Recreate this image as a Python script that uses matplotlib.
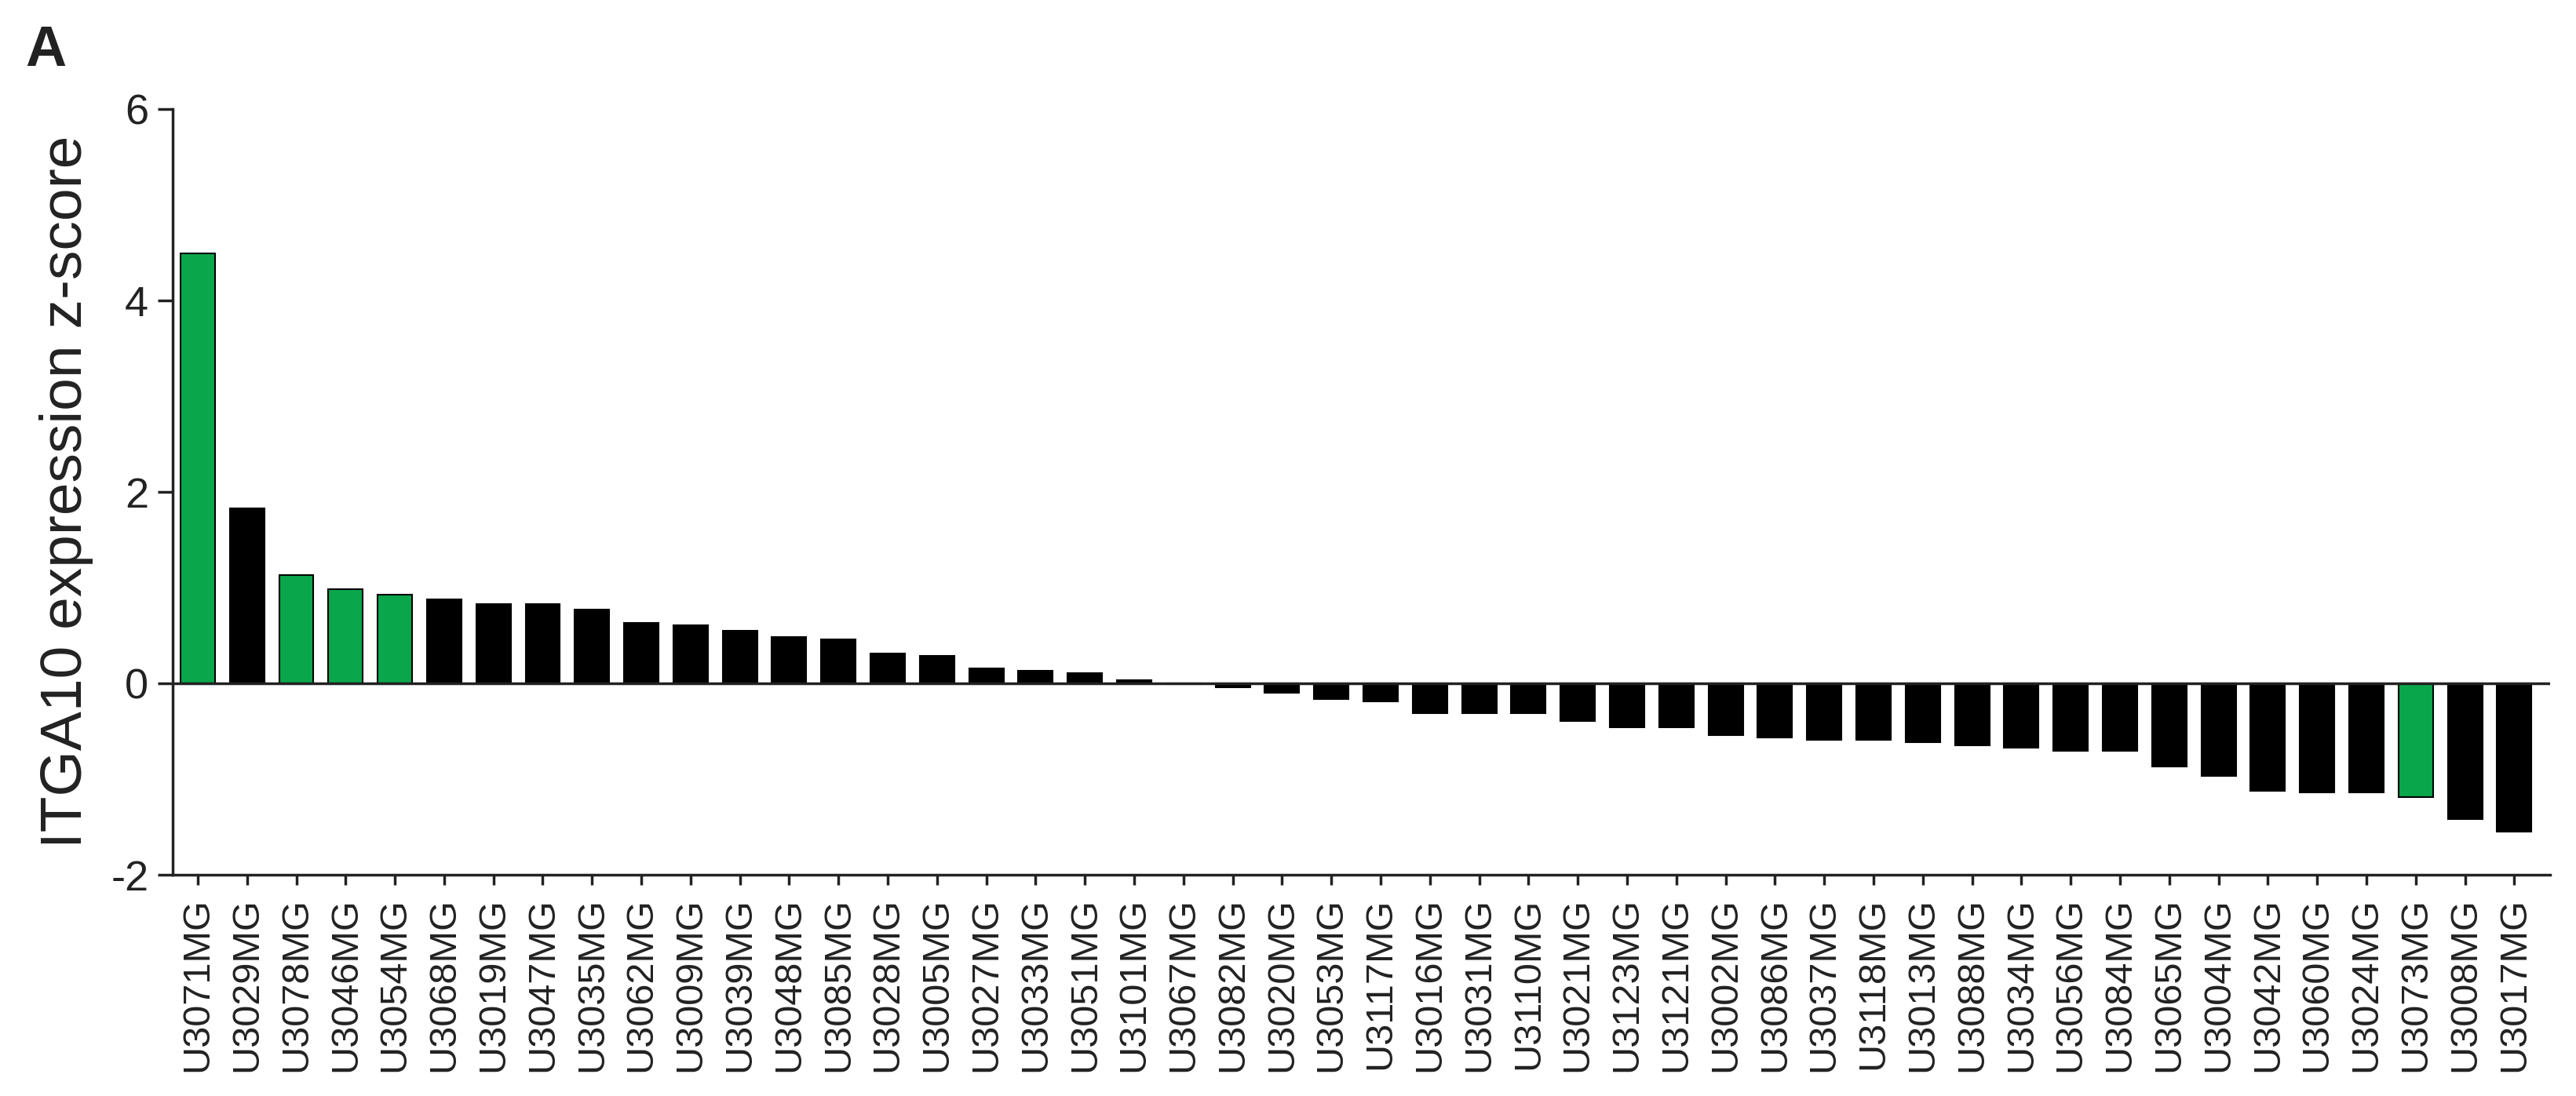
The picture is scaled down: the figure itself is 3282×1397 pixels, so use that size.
import matplotlib
matplotlib.use('Agg')
import matplotlib.pyplot as plt
import numpy as np

plt.rcParams['font.family'] = ['Liberation Sans', 'DejaVu Sans']
plt.rcParams['axes.unicode_minus'] = False

# cell lines, ordered by z-score
cell_lines = ['U3071MG', 'U3029MG', 'U3078MG', 'U3046MG', 'U3054MG', 'U3068MG',
              'U3019MG', 'U3047MG', 'U3035MG', 'U3062MG', 'U3009MG', 'U3039MG',
              'U3048MG', 'U3085MG', 'U3028MG', 'U3005MG', 'U3027MG', 'U3033MG',
              'U3051MG', 'U3101MG', 'U3067MG', 'U3082MG', 'U3020MG', 'U3053MG',
              'U3117MG', 'U3016MG', 'U3031MG', 'U3110MG', 'U3021MG', 'U3123MG',
              'U3121MG', 'U3002MG', 'U3086MG', 'U3037MG', 'U3118MG', 'U3013MG',
              'U3088MG', 'U3034MG', 'U3056MG', 'U3084MG', 'U3065MG', 'U3004MG',
              'U3042MG', 'U3060MG', 'U3024MG', 'U3073MG', 'U3008MG', 'U3017MG']

zscores = [4.49, 1.83, 1.13, 0.98, 0.93, 0.88,
           0.83, 0.83, 0.77, 0.63, 0.61, 0.55,
           0.48, 0.46, 0.31, 0.285, 0.154, 0.13,
           0.107, 0.03, -0.01, -0.04, -0.094, -0.166,
           -0.19, -0.31, -0.31, -0.31, -0.39, -0.455,
           -0.455, -0.54, -0.568, -0.59, -0.59, -0.618,
           -0.643, -0.668, -0.706, -0.706, -0.866, -0.97,
           -1.12, -1.14, -1.14, -1.19, -1.42, -1.55]

# highlighted lines (green)
highlighted = ['U3071MG', 'U3078MG', 'U3046MG', 'U3054MG', 'U3073MG']

green = '#0aa64b'
colors = [green if c in highlighted else 'black' for c in cell_lines]

fig = plt.figure(figsize=(32.82, 13.97), dpi=100)
ax = fig.add_axes([0.067, 0.2018, 0.923, 0.6987])

x = np.arange(len(cell_lines))
ax.bar(x, zscores, width=0.7, color=colors, edgecolor='black', linewidth=1.5, zorder=2)
ax.axhline(0, color='#222222', linewidth=2.5, zorder=3)

ax.set_xlim(-0.51, len(cell_lines) - 0.27)
ax.set_ylim(-2, 6)
ax.set_yticks([-2, 0, 2, 4, 6])
ax.set_xticks(x)
ax.set_xticklabels(cell_lines, rotation=90, fontsize=35)

for s in ['top', 'right']:
    ax.spines[s].set_visible(False)
for s in ['left', 'bottom']:
    ax.spines[s].set_linewidth(2.5)
    ax.spines[s].set_color('#222222')

ax.tick_params(axis='y', labelsize=39, length=14, width=2.5, pad=8, colors='#222222')
ax.tick_params(axis='x', length=9, width=2.5, pad=12, colors='#222222')
ax.set_ylabel('ITGA10 expression z-score', fontsize=54, color='#222222', labelpad=16)

fig.text(0.0098, 0.94, 'A', fontsize=52, fontweight='bold', color='#222222')

fig.savefig('out.png', dpi=100)
